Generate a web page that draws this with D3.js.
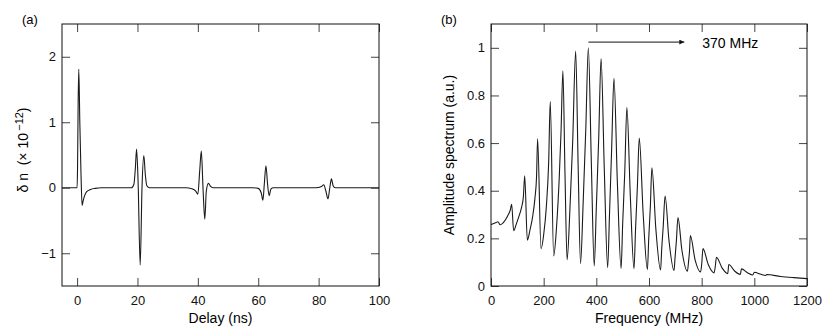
<!DOCTYPE html>
<html>
<head>
<meta charset="utf-8">
<script src="https://cdn.jsdelivr.net/npm/d3@7/dist/d3.min.js"></script>
<style>
  body { margin: 0; background: #fff; }
  svg { font-family: "Liberation Sans", Arial, Helvetica, sans-serif; }
</style>
</head>
<body>
<script>
// panel (a): refractive index change vs delay
var delay = [-5, 0, 0.15, 0.35, 0.56, 0.9, 1.3, 1.66, 2.0, 2.5, 3.2, 4.5, 6, 8,
  18, 18.8, 19.3, 19.7, 20.2, 20.9, 21.5, 22.1, 22.6, 23.1, 24,
  36, 38, 39.3, 40.0, 40.6, 41.15, 41.7, 42.3, 42.8, 43.5, 44.2, 45,
  58, 60, 61, 61.55, 62.0, 62.55, 63.1, 63.6, 64.2, 65,
  79, 81, 81.7, 82.4, 83.1, 83.7, 84.25, 84.8, 85.5, 100];
var deltaN = [0, 0, 0.3, 1.3, 1.81, 1.0, 0.2, -0.27, -0.2, -0.12, -0.06, -0.025, -0.01, 0,
  0, 0.05, 0.3, 0.59, 0.1, -1.18, 0.0, 0.49, 0.2, 0.03, 0,
  0, -0.015, -0.05, -0.097, 0.25, 0.56, 0.0, -0.48, -0.05, 0.067, 0.02, 0,
  0, -0.01, -0.08, -0.19, 0.05, 0.336, 0.05, -0.12, -0.02, 0,
  0, 0.02, 0.045, -0.05, -0.17, 0.0, 0.135, 0.03, 0, 0];
var delayTicks = [0, 20, 40, 60, 80, 100];
var deltaTicks = [-1, 0, 1, 2];

// panel (b): amplitude spectrum
var freq = [0, 10, 20, 26, 35, 45, 55, 65, 73, 78.5,
  86, 96, 106, 116, 123, 128,
  138, 148, 158, 167, 173, 177,
  190, 200, 210, 219, 225,
  238, 249, 259, 266, 273,
  281, 289, 300, 310, 321.5,
  331, 340, 350, 360, 369.6,
  381, 392, 400, 409, 418,
  430, 443, 450, 458, 467,
  480, 494, 500, 508, 516,
  529, 543, 549, 556, 563,
  578, 594, 599, 605, 611,
  626, 644, 648, 654, 661,
  676, 695, 699, 704, 710,
  725, 746, 750, 754, 757,
  775, 796, 800, 805,
  825, 847, 852, 856,
  878, 899, 903,
  925, 947, 951,
  975, 994, 1000,
  1025, 1043, 1047,
  1100, 1150, 1200];
var amp = [0.258, 0.262, 0.267, 0.27, 0.257, 0.264, 0.278, 0.298, 0.318, 0.343,
  0.232, 0.26, 0.292, 0.33, 0.375, 0.463,
  0.192, 0.235, 0.29, 0.37, 0.46, 0.618,
  0.156, 0.215, 0.33, 0.52, 0.774,
  0.126, 0.25, 0.45, 0.65, 0.903,
  0.47, 0.11, 0.33, 0.6, 0.986,
  0.5, 0.094, 0.35, 0.66, 1.0,
  0.52, 0.084, 0.33, 0.62, 0.955,
  0.5, 0.077, 0.3, 0.57, 0.872,
  0.43, 0.073, 0.26, 0.48, 0.749,
  0.38, 0.072, 0.24, 0.42, 0.621,
  0.3, 0.069, 0.2, 0.33, 0.496,
  0.24, 0.067, 0.15, 0.25, 0.378,
  0.19, 0.065, 0.12, 0.19, 0.287,
  0.15, 0.062, 0.1, 0.15, 0.212,
  0.11, 0.059, 0.09, 0.157,
  0.09, 0.055, 0.085, 0.121,
  0.075, 0.052, 0.09,
  0.063, 0.049, 0.072,
  0.055, 0.046, 0.058,
  0.049, 0.044, 0.048,
  0.04, 0.035, 0.031];
var freqTicks = [0, 200, 400, 600, 800, 1000, 1200];
var ampTicks = [0, 0.2, 0.4, 0.6, 0.8, 1];
var ampTickLabels = ["0", "0.2", "0.4", "0.6", "0.8", "1"];
var peakFreq = 370, arrowEnd = 734, arrowLevel = 1.024;

var svg = d3.select("body").append("svg")
    .attr("width", 830)
    .attr("height", 334);

// draws the frame with inward ticks on all four sides
function frame(g, x, y, w, h, xt, yt, yfmt) {
  g.append("g")
      .attr("transform", "translate(0," + h + ")")
      .call(d3.axisBottom(x).tickValues(xt).tickSize(-8).tickPadding(10).tickFormat(d3.format("d")));
  g.append("g")
      .call(d3.axisTop(x).tickValues(xt).tickSize(-8).tickFormat(""));
  g.append("g")
      .call(d3.axisLeft(y).tickValues(yt).tickSize(-8).tickPadding(6).tickFormat(yfmt));
  g.append("g")
      .attr("transform", "translate(" + w + ",0)")
      .call(d3.axisRight(y).tickValues(yt).tickSize(-8).tickFormat(""));
  g.selectAll(".domain").remove();
  g.selectAll(".tick line").attr("stroke", "#444");
  g.selectAll(".tick text").attr("font-size", 13).attr("fill", "#111")
      .attr("font-family", "'Liberation Sans', Arial, sans-serif");
  g.append("rect")
      .attr("width", w).attr("height", h)
      .attr("fill", "none").attr("stroke", "#111");
}

// ---- panel (a)
var wa = 317, ha = 262;
var ga = svg.append("g").attr("transform", "translate(62,24)");
var xa = d3.scaleLinear().domain([-5, 100]).range([0, wa]);
var ya = d3.scaleLinear().domain([-1.5, 2.5]).range([ha, 0]);

ga.append("path")
    .datum(delay.map(function(d, i) { return [d, deltaN[i]]; }))
    .attr("fill", "none")
    .attr("stroke", "#1a1a1a")
    .attr("stroke-width", 1.1)
    .attr("d", d3.line()
        .x(function(d) { return xa(d[0]); })
        .y(function(d) { return ya(d[1]); })
        .curve(d3.curveMonotoneX));

frame(ga, xa, ya, wa, ha, delayTicks, deltaTicks, d3.format("d"));

svg.append("text").attr("x", 22).attr("y", 23.5)
    .attr("font-size", 13).text("(a)");
svg.append("text").attr("x", 62 + wa / 2).attr("y", 323)
    .attr("text-anchor", "middle").attr("font-size", 14).text("Delay (ns)");

var ylab = svg.append("text")
    .attr("transform", "translate(28,150) rotate(-90)")
    .attr("text-anchor", "middle").attr("font-size", 14)
    .style("white-space", "pre");
ylab.append("tspan").text("\u03b4\u00a0n\u00a0\u00a0(\u00d7\u00a010");
ylab.append("tspan").attr("font-size", 11).attr("dy", "-0.5em").text("\u2009\u221212");
ylab.append("tspan").attr("dy", "0.4em").text(")");

// ---- panel (b)
var wb = 316, hb = 262;
var gb = svg.append("g").attr("transform", "translate(491,24)");
var xb = d3.scaleLinear().domain([0, 1200]).range([0, wb]);
var yb = d3.scaleLinear().domain([0, 1.1]).range([hb, 0]);

gb.append("path")
    .datum(freq.map(function(d, i) { return [d, amp[i]]; }))
    .attr("fill", "none")
    .attr("stroke", "#1a1a1a")
    .attr("stroke-width", 1.1)
    .attr("d", d3.line()
        .x(function(d) { return xb(d[0]); })
        .y(function(d) { return yb(d[1]); })
        .curve(d3.curveMonotoneX));

frame(gb, xb, yb, wb, hb, freqTicks, ampTicks, function(d, i) { return ampTickLabels[i]; });

// arrow marking the 370 MHz spacing
svg.append("defs").append("marker")
    .attr("id", "head")
    .attr("viewBox", "0 0 10 10")
    .attr("refX", 10).attr("refY", 5)
    .attr("markerWidth", 7).attr("markerHeight", 5)
    .attr("markerUnits", "userSpaceOnUse")
    .attr("orient", "auto")
  .append("path").attr("d", "M0,0L10,5L0,10z").attr("fill", "#111");

gb.append("line")
    .attr("x1", xb(peakFreq)).attr("x2", xb(arrowEnd))
    .attr("y1", yb(arrowLevel)).attr("y2", yb(arrowLevel))
    .attr("stroke", "#111").attr("stroke-width", 1)
    .attr("marker-end", "url(#head)");
gb.append("text")
    .attr("x", xb(arrowEnd) + 18).attr("y", yb(arrowLevel) + 5.5)
    .attr("font-size", 14).text(peakFreq + " MHz");

svg.append("text").attr("x", 441).attr("y", 23.5)
    .attr("font-size", 13).text("(b)");
svg.append("text").attr("x", 491 + wb / 2).attr("y", 323)
    .attr("text-anchor", "middle").attr("font-size", 14).text("Frequency (MHz)");
svg.append("text")
    .attr("transform", "translate(454,155) rotate(-90)")
    .attr("text-anchor", "middle").attr("font-size", 14)
    .text("Amplitude spectrum (a.u.)");
</script>
</body>
</html>
